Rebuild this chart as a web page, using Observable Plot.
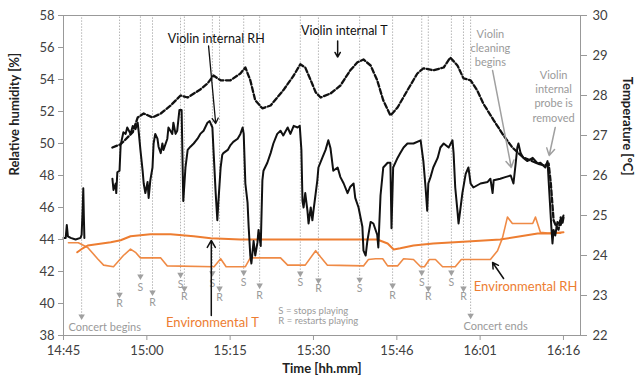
<!DOCTYPE html>
<html><head><meta charset="utf-8">
<script src="https://cdn.jsdelivr.net/npm/d3@7"></script>
<script src="https://cdn.jsdelivr.net/npm/@observablehq/plot@0.6"></script>
<style>body{margin:0;background:#fff}</style>
</head><body><div id="chart"></div>
<script>
// Time axis: minutes after 14:45
const xTickValues = [0, 15.17, 30.33, 45.5, 60.67, 75.83, 91];
const xTickLabels = ["14:45", "15:00", "15:15", "15:30", "15:46", "16:01", "16:16"];
const rhTicks = [38, 40, 42, 44, 46, 48, 50, 52, 54, 56, 58];
const tempTicks = [22, 23, 24, 25, 26, 27, 28, 29, 30];

// Violin internal RH [%]
const rhTime = [0.0,0.4,0.6,0.8,1.3,2.2,3.1,3.3,3.5,3.6,3.7,3.8,6.0,
  8.9,9.1,9.5,9.6,9.8,10.2,10.4,10.9,11.3,11.6,12.2,12.6,13.1,13.5,13.7,14.0,14.4,14.6,14.9,15.3,15.5,15.8,16.2,16.4,16.7,17.1,17.3,17.7,18.0,18.2,18.9,19.1,19.8,20.0,20.4,20.7,21.1,21.5,21.8,22.2,22.6,23.1,23.7,24.4,24.9,25.5,26.2,26.6,27.1,27.3,27.7,28.0,28.2,28.6,28.9,29.1,29.9,30.4,30.9,31.7,32.2,32.6,32.8,33.1,33.5,33.7,34.0,34.2,34.6,34.9,35.3,35.5,35.9,36.2,36.4,37.1,37.7,38.2,38.9,39.5,40.0,40.8,41.3,41.9,42.6,43.0,43.3,43.5,43.7,44.0,44.4,44.6,45.0,45.3,45.5,46.2,46.4,47.1,47.7,48.2,48.6,49.1,49.9,50.4,51.0,51.7,52.2,52.8,53.1,53.7,54.4,54.6,55.0,55.3,55.9,56.4,57.1,57.3,57.7,58.2,59.0,59.5,59.7,60.0,60.8,61.3,61.9,62.6,63.7,65.0,65.5,65.9,66.2,66.4,66.8,67.3,68.1,68.6,69.2,70.1,70.8,71.0,71.3,71.7,71.9,72.2,72.6,73.2,73.7,74.1,74.6,75.9,77.2,77.7,78.1,78.3,79.5,80.4,81.4,81.9,82.3,82.6,82.8,83.2,83.7,84.4,85.4,86.3,86.8,87.7,88.1,88.4,88.8,89.0,89.2,89.5,89.9,90.5,91.0];
const rhValue = [44.1,44.1,44.9,44.2,44.1,44.0,44.1,44.3,46.0,47.2,45.5,44.1,null,
  47.8,47.1,47.5,46.9,48.2,48.3,49.9,50.7,50.6,51.0,50.6,51.1,50.9,51.3,50.7,49.6,48.3,47.5,46.9,47.6,46.6,47.7,48.5,50.0,50.6,50.3,49.8,49.4,50.0,49.6,50.3,51.0,50.6,51.3,50.6,50.8,52.1,52.1,46.4,48.5,49.6,49.8,50.0,50.3,50.6,50.8,51.3,51.4,51.0,49.6,46.9,45.2,46.4,48.5,49.3,49.4,49.6,49.9,50.1,50.3,50.6,51.0,50.6,47.5,46.3,44.8,43.0,42.5,43.9,43.0,43.8,44.6,43.6,47.7,48.3,48.8,49.4,50.0,50.6,50.8,50.5,51.0,50.6,51.1,51.0,51.1,49.6,46.4,46.0,46.9,45.8,45.0,46.0,45.2,45.8,47.7,48.5,49.1,49.6,50.2,49.7,48.3,48.5,47.9,47.5,46.9,47.3,47.5,46.6,46.0,44.8,43.3,43.0,43.9,45.1,45.0,44.3,43.5,46.75,48.5,48.8,48.8,44.7,48.5,49.1,49.4,49.75,50.0,50.0,50.2,48.9,47.25,45.8,47.5,47.9,48.5,49.1,49.75,50.0,49.75,50.2,49.4,47.25,45.8,45.0,45.8,46.9,48.1,48.5,47.5,47.25,47.5,47.6,47.8,46.9,47.7,47.8,47.9,48.0,47.5,48.75,49.75,50.0,49.4,49.1,48.9,49.1,48.75,48.8,48.5,48.9,47.1,44.75,43.75,44.6,44.25,45.1,44.9,45.5];

// Violin internal T [°C]
const vtTime = [8.9,10.4,12.6,13.5,14.6,16.2,17.7,19.5,21.3,22.6,24.9,26.2,27.3,28.6,30.4,32.2,33.1,34.0,34.9,36.2,37.7,40.0,41.9,43.1,44.0,45.0,45.9,46.8,48.6,50.4,52.2,53.5,54.6,55.9,57.1,58.2,59.5,60.8,62.6,64.4,65.5,67.3,69.2,70.4,71.7,72.8,74.1,75.3,76.4,78.3,80.1,81.7,83.7,86.3,87.5,88.3,88.7,89.0,89.2,89.6,90.1,90.5,90.8,91.0];
const vtValue = [26.7,26.78,27.08,27.45,27.55,27.45,27.55,27.75,28.0,27.95,28.15,28.3,28.5,28.38,28.38,28.55,28.7,28.38,27.88,27.68,27.75,28.13,28.5,28.78,28.7,28.38,28.08,27.95,28.05,28.25,28.63,28.83,28.9,28.75,28.38,27.88,27.5,27.7,28.13,28.55,28.68,28.63,28.7,28.95,28.75,28.43,28.38,28.13,27.8,27.38,27.0,26.7,26.45,26.3,26.25,26.3,25.8,25.25,24.88,24.75,24.65,24.95,24.8,24.95];

// Environmental T [°C]
const etTime = [2.5,3.5,4.4,8.6,10.4,12.2,15.8,19.5,23.7,26.8,32.2,46.8,57.1,59.0,60.1,61.3,63.7,67.3,73.5,79.5,83.2,86.3,88.6,91.0];
const etValue = [24.08,24.18,24.25,24.33,24.38,24.48,24.53,24.53,24.48,24.43,24.4,24.4,24.4,24.3,24.15,24.18,24.25,24.3,24.35,24.4,24.48,24.55,24.55,24.58];

// Environmental RH [%]
const erTime = [0.9,2.7,4.4,6.2,7.3,9.1,10.9,12.2,13.1,14.0,17.7,18.9,27.4,28.6,29.6,33.1,34.0,39.5,40.8,44.0,45.9,46.8,48.0,54.6,55.5,56.8,58.1,59.0,60.8,61.9,63.7,65.0,65.7,66.6,67.7,69.0,71.3,72.4,77.7,79.0,79.9,80.8,81.7,85.4,85.9,86.8,88.1,90.5];
const erValue = [43.8,43.8,43.5,42.8,42.4,42.3,43.0,43.4,43.2,42.85,42.85,42.35,42.3,42.8,42.3,42.3,42.85,42.85,42.4,42.4,43.3,42.9,42.4,42.35,42.75,42.8,42.8,42.35,42.35,42.8,42.75,42.3,42.3,42.75,42.75,42.3,42.3,42.75,42.75,43.3,44.1,45.4,45.0,45.0,45.4,44.45,44.4,44.4];

// Playing events (S = stops, R = restarts)
const evTime  = [3.3, 10.2, 14.0, 16.2, 21.3, 22.0, 27.1, 28.4, 32.8, 35.7, 43.1, 46.4, 53.9, 59.9, 65.2, 66.4, 70.6, 72.8, 74.1];
const evLabel = ["", "R", "S", "R", "S", "R", "S", "R", "S", "R", "S", "R", "S", "R", "S", "R", "S", "R", ""];
const evTip   = [39.2, 40.56, 41.7, 40.7, 41.8, 40.94, 41.9, 40.94, 41.94, 41.13, 41.88, 41.44, 41.5, 41.13, 41.94, 40.94, 41.94, 40.94, 39.25];
const evText  = [null, 40.0, 41.0, 40.06, 41.2, 40.4, 41.25, 40.35, 41.3, 40.5, 41.3, 40.9, 40.95, 40.5, 41.3, 40.4, 41.3, 40.4, null];

const toRH = T => 38 + (T - 22) * 2.5;
const zip = (ts, vs, f = v => v) => ts.map((t, i) => ({t, v: vs[i] == null ? null : f(vs[i])}));

const rhData = zip(rhTime, rhValue);
const vtData = zip(vtTime, vtValue, toRH);
const etData = zip(etTime, etValue, toRH);
const erData = zip(erTime, erValue);
const events = evTime.map((t, i) => ({t, label: evLabel[i], tip: evTip[i], ty: evText[i]}));

const orange = "#ED7D31";
const grayTxt = "#9a9a9a";

const chart = Plot.plot({
  width: 640, height: 385,
  marginLeft: 63, marginRight: 60, marginTop: 15, marginBottom: 50,
  style: {fontFamily: "Lato, 'Open Sans', sans-serif", fontSize: "13px", color: "#404040", background: "#fff"},
  x: {domain: [0, 94.1], axis: null},
  y: {domain: [38, 58], axis: null},
  marks: [
    Plot.ruleX(events, {x: "t", y1: "tip", y2: 58, stroke: "#b5b5b5", strokeWidth: 1, strokeDasharray: "1.5,1.5"}),
    Plot.dot(events, {x: "t", y: "tip", symbol: "triangle", r: 2.4, fill: "#a0a0a0", stroke: "none", rotate: 180}),
    Plot.text(events.filter(d => d.label), {x: "t", y: "ty", text: "label", fill: grayTxt, fontSize: 10.5}),
    Plot.line(etData, {x: "t", y: "v", stroke: orange, strokeWidth: 2}),
    Plot.line(erData, {x: "t", y: "v", stroke: orange, strokeWidth: 1.6, strokeOpacity: 0.9}),
    Plot.line(vtData, {x: "t", y: "v", stroke: "#111", strokeWidth: 2.3, strokeDasharray: "5,2.5"}),
    Plot.line(rhData, {x: "t", y: "v", stroke: "#111", strokeWidth: 2, curve: "linear"}),
    Plot.frame({stroke: "#999"}),
    Plot.axisY({anchor: "left", ticks: rhTicks, tickSize: 5, tickPadding: 4, label: null, stroke: "#999", fill: "#404040"}),
    Plot.axisY({anchor: "right", ticks: tempTicks.map(toRH), tickFormat: d => String(Math.round(22 + (d - 38) / 2.5)), tickSize: 6, tickPadding: 6, label: null, stroke: "#999", fill: "#404040"}),
    Plot.axisX({ticks: xTickValues, tickFormat: (d, i) => xTickLabels[i], tickSize: 5, tickPadding: 5, label: null, stroke: "#999", fill: "#404040"}),
    Plot.text(["Relative humidity [%]"], {frameAnchor: "left", dx: -49, rotate: -90, fontWeight: "bold", fill: "#222", fontSize: 13}),
    Plot.text(["Temperature [°C]"], {frameAnchor: "right", dx: 47, rotate: 90, fontWeight: "bold", fill: "#222", fontSize: 13}),
    Plot.text(["Time [hh.mm]"], {frameAnchor: "bottom", dy: 37, fontWeight: "bold", fill: "#222", fontSize: 13}),
    // annotations
    Plot.text([{x: 27.8, y: 56.56, s: "Violin internal RH"}], {x: "x", y: "y", text: "s", fill: "#111", fontSize: 12.5}),
    Plot.text([{x: 51.1, y: 57.06, s: "Violin internal T"}], {x: "x", y: "y", text: "s", fill: "#111", fontSize: 12.5}),
    Plot.text([{x: 77.7, y: 56.0, s: "Violin\ncleaning\nbegins"}], {x: "x", y: "y", text: "s", fill: grayTxt, fontSize: 11, lineHeight: 1.3}),
    Plot.text([{x: 89.2, y: 53.0, s: "Violin\ninternal\nprobe is\nremoved"}], {x: "x", y: "y", text: "s", fill: grayTxt, fontSize: 11, lineHeight: 1.3}),
    Plot.text([{x: 27.1, y: 38.8, s: "Environmental T"}], {x: "x", y: "y", text: "s", fill: orange, fontSize: 13}),
    Plot.text([{x: 84.1, y: 41.06, s: "Environmental RH"}], {x: "x", y: "y", text: "s", fill: orange, fontSize: 13}),
    Plot.text([{x: 39.1, y: 39.56, s: "S = stops playing"}, {x: 39.1, y: 38.9, s: "R = restarts playing"}], {x: "x", y: "y", text: "s", fill: grayTxt, fontSize: 9.5, textAnchor: "start"}),
    Plot.text([{x: 0.9, y: 38.5, s: "Concert begins"}, {x: 72.8, y: 38.56, s: "Concert ends"}], {x: "x", y: "y", text: "s", fill: grayTxt, fontSize: 11, textAnchor: "start"}),
    Plot.arrow([{x1: 26.4, y1: 56.1, x2: 27.7, y2: 51.25}], {x1: "x1", y1: "y1", x2: "x2", y2: "y2", stroke: "#111", strokeWidth: 1.3, headLength: 7}),
    Plot.arrow([{x1: 49.9, y1: 56.4, x2: 49.9, y2: 55.4}], {x1: "x1", y1: "y1", x2: "x2", y2: "y2", stroke: "#111", strokeWidth: 1.5, headLength: 7}),
    Plot.arrow([{x1: 26.9, y1: 39.25, x2: 26.9, y2: 43.94}], {x1: "x1", y1: "y1", x2: "x2", y2: "y2", stroke: "#111", strokeWidth: 1.5, headLength: 8}),
    Plot.arrow([{x1: 80.1, y1: 41.56, x2: 78.1, y2: 42.56}], {x1: "x1", y1: "y1", x2: "x2", y2: "y2", stroke: "#111", strokeWidth: 1.5, headLength: 7}),
    Plot.arrow([{x1: 78.1, y1: 54.56, x2: 81.5, y2: 48.5}], {x1: "x1", y1: "y1", x2: "x2", y2: "y2", stroke: "#a0a0a0", strokeWidth: 1.5, headLength: 8}),
    Plot.arrow([{x1: 89.5, y1: 51.0, x2: 88.4, y2: 49.25}], {x1: "x1", y1: "y1", x2: "x2", y2: "y2", stroke: "#a0a0a0", strokeWidth: 1.5, headLength: 8})
  ]
});
document.getElementById("chart").append(chart);
</script></body></html>
